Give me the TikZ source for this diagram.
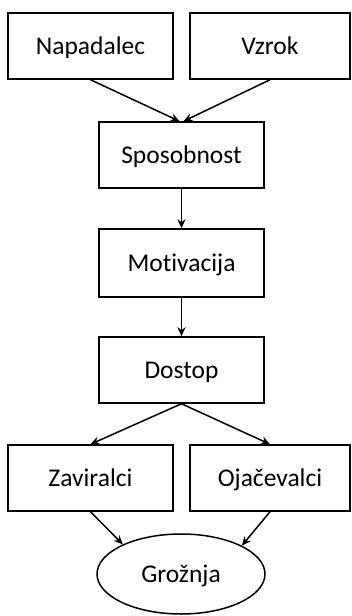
\documentclass[tikz,border=0pt]{standalone}
\usepackage{fontspec}
\setmainfont[Ligatures=NoCommon]{Carlito}
\usetikzlibrary{arrows.meta,shapes.geometric}
\begin{document}
\begin{tikzpicture}[x=1pt,y=-1pt,
  lbl/.style={font=\fontsize{25.5}{30}\selectfont,text height=20pt,text depth=4pt},
  box/.style={lbl,draw=black,line width=1.5pt,rectangle,minimum width=165pt,minimum height=66pt,inner sep=0pt},
  oval/.style={lbl,draw=black,line width=1.5pt,ellipse,minimum width=168pt,minimum height=80pt,inner sep=0pt},
  arr/.style={line width=1.5pt,-{Stealth[length=9pt,width=8pt]}}]
\useasboundingbox (0,0) rectangle (351,616);
\node[box] (nap) at (90.5,46) {Napadalec};
\node[box,minimum width=160pt] (vzr) at (270,46) {Vzrok};
\node[box] (spo) at (181.5,155) {Sposobnost};
\node[box,minimum height=68pt] (mot) at (181.5,263) {Motivacija};
\node[box] (dos) at (181.5,370) {Dostop};
\node[box] (zav) at (90.5,478) {Zaviralci};
\node[box,minimum width=160pt] (oja) at (270,478) {Ojačevalci};
\node[oval] (gro) at (181,574) {Grožnja};
\draw[arr] (nap.south) -- ([xshift=-2pt]spo.north);
\draw[arr] (vzr.south) -- ([xshift=2pt]spo.north);
\draw[arr] (spo) -- (mot);
\draw[arr] (mot) -- (dos);
\draw[arr] (dos.south) -- (zav.north);
\draw[arr] (dos.south) -- (oja.north);
\draw[arr] (zav.south) -- (gro.153);
\draw[arr] (oja.south) -- (gro.25);
\end{tikzpicture}
\end{document}
